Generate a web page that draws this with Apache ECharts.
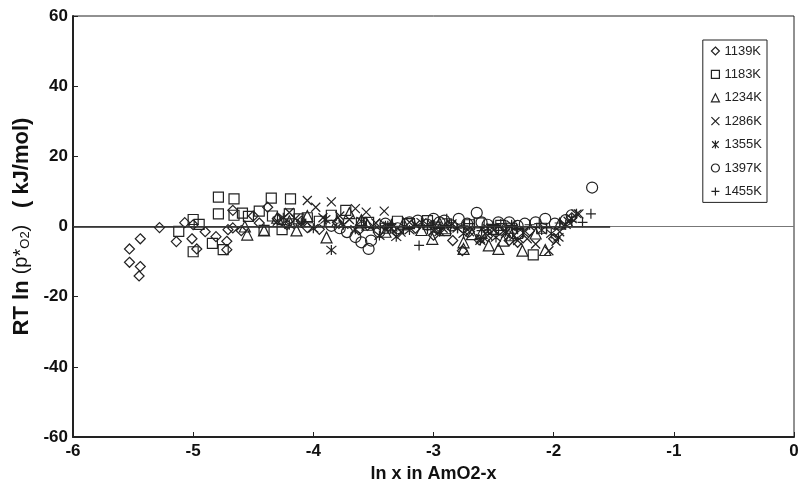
<!DOCTYPE html>
<html>
<head>
<meta charset="utf-8">
<script src="https://cdn.jsdelivr.net/npm/echarts@6/dist/echarts.min.js"></script>
<style>
  html, body { margin: 0; padding: 0; background: #fff; }
  #chart { width: 798px; height: 490px; }
</style>
</head>
<body>
<div id="chart"></div>
<script>
  // temperature series: [ln x, RT ln p*O2]
  const seriesNames = ['1139K', '1183K', '1234K', '1286K', '1355K', '1397K', '1455K']

  const data1139 = [
    [-5.53, -6.4], [-5.53, -10.2], [-5.44, -3.5], [-5.44, -11.4], [-5.45, -14.1],
    [-5.28, -0.3], [-5.14, -4.3], [-5.07, 1.1], [-5.01, -3.5], [-5.0, 0.5],
    [-4.97, -6.4], [-4.90, -1.5], [-4.81, -2.9], [-4.72, -4.2], [-4.72, -6.6],
    [-4.71, -0.9], [-4.67, -0.4], [-4.67, 4.6], [-4.60, -1.2], [-4.50, 3.0],
    [-4.45, 1.0], [-4.38, 5.5], [-4.30, 2.2], [-4.22, 0.5], [-4.10, 1.5],
    [-4.05, -0.3], [-3.95, -0.8], [-3.80, 1.2], [-3.62, -1.0], [-3.55, 0.3],
    [-3.45, 0.6], [-3.30, -1.8], [-3.15, -0.5], [-3.0, -2.5], [-2.95, -0.8],
    [-2.84, -4.0], [-2.76, -6.9], [-2.70, -1.5], [-2.62, -3.8], [-2.55, -2.8],
    [-2.45, -1.0], [-2.37, -4.0], [-2.30, -4.5], [-2.2, -1.2], [-2.0, -3.5],
    [-1.85, 2.5]
  ]
  const data1183 = [
    [-5.12, -1.4], [-5.0, 2.0], [-4.95, 0.6], [-5.0, -7.2], [-4.84, -4.8],
    [-4.75, -6.6], [-4.79, 8.4], [-4.66, 7.9], [-4.79, 3.6], [-4.66, 3.2],
    [-4.59, 3.8], [-4.54, 2.9], [-4.45, 4.4], [-4.35, 8.1], [-4.41, -1.1],
    [-4.34, 3.0], [-4.26, -0.9], [-4.19, 7.9], [-4.2, 3.6], [-4.12, 2.2],
    [-4.05, 2.5], [-3.95, 1.5], [-3.85, 3.2], [-3.73, 4.6], [-3.6, 1.0],
    [-3.54, 1.2], [-3.4, -0.5], [-3.3, 1.5], [-3.2, 0.8], [-3.05, 1.7],
    [-2.98, -0.2], [-2.9, -1.2], [-2.7, 0.5], [-2.62, 1.0], [-2.5, -0.8],
    [-2.44, 0.3], [-2.35, -0.5], [-2.3, -2.0], [-2.17, -8.1], [-2.1, -0.5]
  ]
  const data1234 = [
    [-4.57, 0], [-4.55, -2.3], [-4.41, -1.1], [-4.3, 2.5], [-4.2, 1.5],
    [-4.14, -1.1], [-4.05, 3.0], [-3.89, -3.1], [-3.8, 1.5], [-3.7, 3.8],
    [-3.6, 1.8], [-3.55, 0.5], [-3.4, -1.5], [-3.35, 0.3], [-3.25, 0.8],
    [-3.1, -1.0], [-3.01, -3.5], [-2.95, 1.0], [-2.9, -0.5], [-2.75, -4.5],
    [-2.75, -6.4], [-2.68, -2.2], [-2.6, -1.8], [-2.54, -5.4], [-2.46, -6.4],
    [-2.42, -4.0], [-2.35, -2.5], [-2.26, -6.9], [-2.15, -2.0], [-2.07, -6.7],
    [-1.95, 0.8]
  ]
  const data1286 = [
    [-4.3, 1.5], [-4.2, 4.0], [-4.15, 2.2], [-4.05, 7.4], [-3.98, 5.5],
    [-3.92, 2.5], [-3.85, 7.0], [-3.78, 3.0], [-3.7, 2.0], [-3.65, 5.1],
    [-3.56, 4.1], [-3.48, 1.0], [-3.41, 4.4], [-3.35, -0.5], [-3.27, -1.6],
    [-3.2, 1.2], [-3.15, 0.5], [-3.0, -1.2], [-2.92, -0.5], [-2.85, 0.3],
    [-2.7, -1.5], [-2.61, -3.5], [-2.55, -2.5], [-2.5, -1.0], [-2.4, -2.0],
    [-2.33, -2.6], [-2.3, -4.0], [-2.22, -3.5], [-2.15, -5.0], [-2.04, -6.9],
    [-1.98, -4.2], [-1.95, -1.5], [-1.88, 1.5], [-1.79, 3.6]
  ]
  const data1355 = [
    [-4.25, 2.5], [-4.2, 0.5], [-4.1, 1.0], [-4.0, -0.5], [-3.9, 2.0],
    [-3.85, -6.7], [-3.75, 0.5], [-3.65, -0.8], [-3.6, 1.5], [-3.45, -2.6],
    [-3.38, 0.2], [-3.31, -2.9], [-3.2, -1.0], [-3.1, 1.2], [-3.05, 0.5],
    [-2.95, -1.5], [-2.85, 0.8], [-2.8, -0.5], [-2.75, -2.0], [-2.61, -4.0],
    [-2.55, -0.5], [-2.48, -3.1], [-2.4, -1.5], [-2.35, 0.5], [-2.25, -1.8],
    [-2.1, -1.0], [-2.02, -2.0], [-1.96, -3.1], [-1.9, 0.5], [-1.85, 2.2],
    [-1.81, 3.6]
  ]
  const data1397 = [
    [-3.85, 0.2], [-3.78, -0.5], [-3.72, -1.6], [-3.65, -3.0], [-3.6, -4.5],
    [-3.54, -6.4], [-3.52, -4.0], [-3.45, -1.5], [-3.4, 0.8], [-3.3, -0.5],
    [-3.2, 1.2], [-3.13, 1.7], [-3.05, 0.5], [-3.0, 2.2], [-2.95, 1.2],
    [-2.91, 1.7], [-2.85, 0.3], [-2.79, 2.2], [-2.72, 0.8], [-2.64, 3.9],
    [-2.6, 1.2], [-2.55, 0.5], [-2.46, 1.2], [-2.37, 1.2], [-2.3, 0.2],
    [-2.24, 0.8], [-2.15, 1.2], [-2.07, 2.2], [-1.99, 0.8], [-1.9, 1.8],
    [-1.85, 3.2], [-1.68, 11.1]
  ]
  const data1455 = [
    [-3.5, -0.5], [-3.4, 0.2], [-3.35, 0.8], [-3.25, -1.0], [-3.12, -5.4],
    [-3.05, -0.8], [-3.0, 0.5], [-2.89, 2.2], [-2.8, -0.5], [-2.75, 0.2],
    [-2.7, 0.8], [-2.6, -1.2], [-2.5, 0.3], [-2.44, 0.8], [-2.35, 0.3],
    [-2.3, -0.8], [-2.2, 0.5], [-2.12, 0.8], [-2.06, -0.4], [-1.95, 1.0],
    [-1.85, 1.5], [-1.76, 1.2], [-1.69, 3.6]
  ]

  const seriesData = [data1139, data1183, data1234, data1286, data1355, data1397, data1455]

  const symbols = [
    'diamond',
    'rect',
    'triangle',
    'path://M0,0L10,10M10,0L0,10',
    'path://M0,0L10,10M10,0L0,10M5,-1L5,11',
    'circle',
    'path://M5,0L5,10M0,5L10,5'
  ]
  const symbolSizes = [10, 10, 11, 9, 10, 11, 10]

  const font = '"Liberation Sans Narrow", "Liberation Sans", Arial, sans-serif'
  const plainFont = '"Liberation Sans", Arial, sans-serif'

  const chart = echarts.init(document.getElementById('chart'))

  const series = seriesNames.map((name, i) => ({
    name: name,
    type: 'scatter',
    data: seriesData[i],
    symbol: symbols[i],
    symbolSize: symbolSizes[i],
    itemStyle: {
      color: 'rgba(0,0,0,0)',
      borderColor: '#222',
      borderWidth: 1.2,
      opacity: 1
    },
    emphasis: { disabled: true },
    z: 3
  }))

  // zero reference line
  series[0].markLine = {
    silent: true,
    symbol: 'none',
    label: { show: false },
    data: [
      { yAxis: 0, lineStyle: { color: '#777', width: 1, type: 'solid' } },
      [
        { coord: [-6, 0], lineStyle: { color: '#222', width: 1.5, type: 'solid' } },
        { coord: [-1.53, 0] }
      ]
    ]
  }

  const option = {
    animation: false,
    backgroundColor: '#fff',
    grid: {
      left: 73,
      right: 4,
      top: 16,
      bottom: 53,
      outerBoundsMode: 'none',
      show: true,
      borderColor: '#222',
      borderWidth: 1
    },
    legend: {
      data: seriesNames,
      orient: 'vertical',
      right: 31,
      top: 40,
      padding: [4, 5, 4, 8],
      itemGap: 9.4,
      itemWidth: 8,
      itemHeight: 8,
      borderColor: '#222',
      borderWidth: 1,
      backgroundColor: '#fff',
      itemStyle: { borderWidth: 1.2, color: 'rgba(0,0,0,0)', borderColor: '#222' },
      textStyle: {
        fontFamily: plainFont,
        fontSize: 13,
        lineHeight: 14,
        color: '#222'
      }
    },
    xAxis: {
      type: 'value',
      min: -6,
      max: 0,
      interval: 1,
      name: 'ln x in AmO2-x',
      nameLocation: 'middle',
      nameGap: 28,
      nameTextStyle: {
        fontFamily: font,
        fontWeight: 'bold',
        fontSize: 18,
        color: '#111'
      },
      axisLine: { onZero: false, lineStyle: { color: '#222', width: 2 } },
      axisTick: { inside: true, length: 5, lineStyle: { color: '#222' } },
      axisLabel: {
        margin: 6,
        fontFamily: font,
        fontWeight: 'bold',
        fontSize: 17,
        color: '#111'
      },
      splitLine: { show: false }
    },
    yAxis: {
      type: 'value',
      min: -60,
      max: 60,
      interval: 20,
      name: '{b|RT ln }{r|(p*}{s|O2}{r|)   }{b|( kJ/mol)}',
      nameLocation: 'middle',
      nameGap: 40,
      nameTextStyle: {
        color: '#111',
        rich: {
          b: { fontFamily: font, fontWeight: 'bold', fontSize: 22, color: '#111' },
          r: { fontFamily: plainFont, fontSize: 20, color: '#111' },
          s: { fontFamily: plainFont, fontSize: 13, color: '#111', padding: [7, 0, 0, 0] }
        }
      },
      axisLine: { onZero: false, lineStyle: { color: '#222', width: 2 } },
      axisTick: { inside: true, length: 5, lineStyle: { color: '#222' } },
      axisLabel: {
        margin: 5,
        fontFamily: font,
        fontWeight: 'bold',
        fontSize: 17,
        color: '#111'
      },
      splitLine: { show: false }
    },
    series: series
  }

  chart.setOption(option)
</script>
</body>
</html>
